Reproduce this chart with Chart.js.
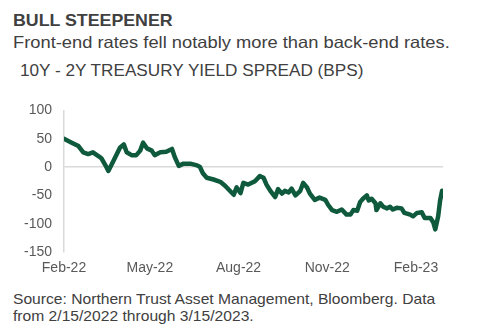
<!DOCTYPE html>
<html>
<head>
<meta charset="utf-8">
<script src="https://cdn.jsdelivr.net/npm/chart.js@4/dist/chart.umd.min.js"></script>
<style>
  html, body { margin:0; padding:0; background:#fff; }
  body { width:500px; height:331px; position:relative; overflow:hidden; font-family:"Liberation Sans", Arial, sans-serif; color:#404040; }
  .txt { position:absolute; white-space:nowrap; line-height:1; transform-origin:0 0; }
  .title { left:13px; top:12px; font-size:16.5px; font-weight:bold; transform:scaleX(1.077); }
  .sub { left:13px; top:34px; font-size:16.5px; transform:scaleX(1.11); }
  .axis-title { left:20px; top:62px; font-size:16.5px; transform:scaleX(1.04); }
  .source { left:13px; top:290px; font-size:15px; line-height:17px; transform:scaleX(1.042); }
  #wrap { position:absolute; left:0; top:90px; width:470px; height:195px; }
</style>
</head>
<body>
<div class="txt title">BULL STEEPENER</div>
<div class="txt sub">Front-end rates fell notably more than back-end rates.</div>
<div class="txt axis-title">10Y - 2Y TREASURY YIELD SPREAD (BPS)</div>
<div id="wrap"><canvas id="chart"></canvas></div>
<div class="txt source">Source: Northern Trust Asset Management, Bloomberg. Data<br>from 2/15/2022 through 3/15/2023.</div>
<script>
// days since 2/15/2022
const days = [0,8,15,20,25,30,36,39,43,46,49,53,58,62,65,70,75,79,82,86,91,94,100,106,112,115,119,124,131,138,141,144,148,155,162,167,172,176,179,183,186,191,198,203,207,210,214,219,222,226,229,233,236,240,245,248,252,255,260,265,271,274,278,283,288,293,297,300,304,307,310,314,316,319,323,324,328,331,335,338,341,345,350,353,359,362,366,371,374,380,383,385,388,390,392,393]
// 10Y - 2Y spread, bps
const spread = [50,43,37,26,23,26,19,15,3,-7,3,17,34,40,26,21,21,29,43,33,29,21,26,27,32,17,2,6,6,3,0,-11,-19,-22,-26,-33,-42,-49,-36,-46,-28,-31,-25,-16,-19,-31,-42,-53,-39,-47,-42,-45,-38,-50,-42,-28,-36,-47,-58,-54,-58,-67,-76,-79,-75,-84,-84,-76,-77,-62,-56,-50,-59,-56,-64,-76,-64,-70,-73,-70,-75,-72,-73,-81,-84,-87,-81,-80,-90,-90,-98,-110,-87,-59,-42,-47]

const tickDays = [0,89,181,273,365]
const tickLabels = ["Feb-22","May-22","Aug-22","Nov-22","Feb-23"]

const points = days.map((d,i)=>({x:d, y:spread[i]}))
const tickColor = "#595959"
const lineGrey = "#d9d9d9"

new Chart(document.getElementById("chart"),{
  type:"line",
  data:{datasets:[{
    data:points,
    borderColor:"#0f5a3c",
    borderWidth:4.5,
    pointRadius:0,
    tension:0,
    borderJoinStyle:"round",
    borderCapStyle:"round"
  }]},
  options:{
    responsive:true,
    maintainAspectRatio:false,
    animation:false,
    layout:{padding:{top:13,right:27,left:0,bottom:0}},
    plugins:{legend:{display:false},tooltip:{enabled:false}},
    scales:{
      x:{
        type:"linear",
        min:0,
        max:393,
        afterBuildTicks:s=>{ s.ticks = tickDays.map(v=>({value:v})) },
        afterFit:s=>{ s.height = 33 },
        grid:{display:false,drawTicks:false},
        border:{display:false},
        ticks:{
          padding:8,
          autoSkip:false,
          maxRotation:0,
          color:tickColor,
          font:{family:"Liberation Sans",size:14},
          callback:v=>tickLabels[tickDays.indexOf(v)]
        }
      },
      y:{
        min:-150,
        max:100,
        afterFit:s=>{ s.width = 64 },
        grid:{
          drawTicks:false,
          color:c=>c.tick && c.tick.value===0 ? lineGrey : "rgba(0,0,0,0)",
          lineWidth:1.5
        },
        border:{display:true,color:lineGrey,width:1.5},
        ticks:{
          stepSize:50,
          padding:12,
          color:tickColor,
          font:{family:"Liberation Sans",size:14}
        }
      }
    }
  }
})
</script>
</body>
</html>
